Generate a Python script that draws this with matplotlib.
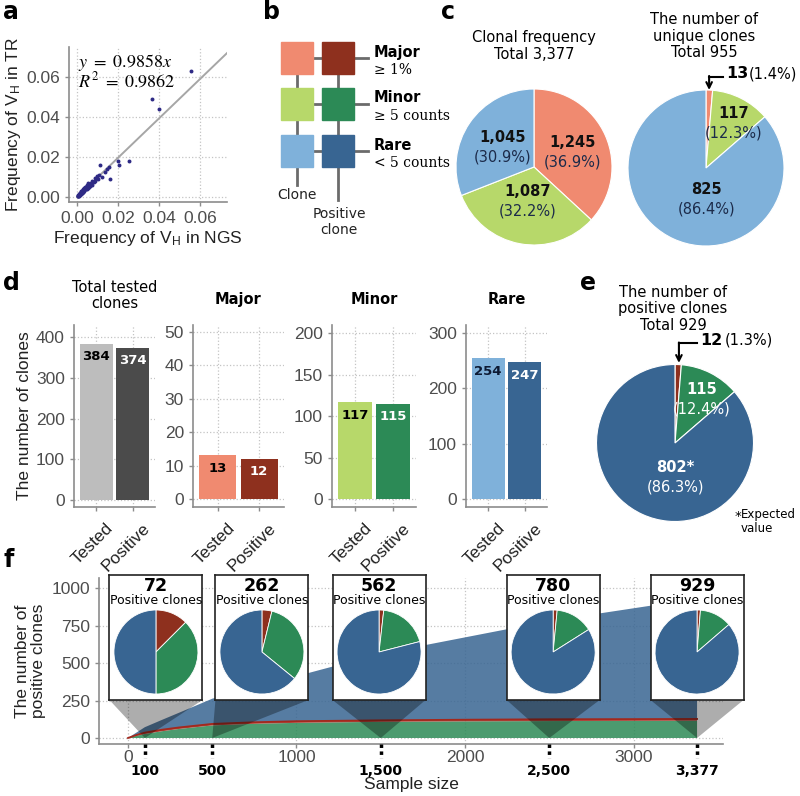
import numpy as np
import matplotlib
matplotlib.use("Agg")
from matplotlib import pyplot as plt
from matplotlib.patches import Rectangle, Polygon
from matplotlib.transforms import blended_transform_factory, ScaledTranslation

W, H = 800, 796

plt.rcParams['font.family'] = ['Liberation Sans', 'DejaVu Sans']
plt.rcParams['mathtext.fontset'] = 'stix'

# ---- data ----
# a: V_H frequency, NGS vs TR
ngs_freq = [0.0555, 0.0365, 0.0400, 0.0200, 0.0205, 0.0250, 0.0112, 0.0153, 0.0145, 0.0137,
            0.0158, 0.0104, 0.0096, 0.0088, 0.0080, 0.0072, 0.0066, 0.0060, 0.0055, 0.0050,
            0.0048, 0.0045, 0.0042, 0.0040, 0.0038, 0.0036, 0.0034, 0.0032, 0.0030, 0.0029,
            0.0028, 0.0026, 0.0025, 0.0024, 0.0022, 0.0021, 0.0020, 0.0019, 0.0018, 0.0017,
            0.0016, 0.0015, 0.0014, 0.0013, 0.0012, 0.0011, 0.0010, 0.0009, 0.0008, 0.0007,
            0.0006, 0.0005, 0.0004, 0.0003, 0.0062, 0.0052, 0.0044, 0.0035, 0.0027, 0.0019,
            0.0012, 0.0030, 0.0023, 0.0016, 0.0009, 0.0070, 0.0085, 0.0100, 0.0120, 0.0050,
            0.0058]
tr_freq = [0.0630, 0.0490, 0.0440, 0.0180, 0.0158, 0.0178, 0.0160, 0.0150, 0.0142, 0.0126,
           0.0090, 0.0110, 0.0105, 0.0082, 0.0074, 0.0078, 0.0070, 0.0064, 0.0068, 0.0055,
           0.0060, 0.0050, 0.0047, 0.0052, 0.0043, 0.0040, 0.0046, 0.0036, 0.0033, 0.0040,
           0.0030, 0.0034, 0.0028, 0.0030, 0.0026, 0.0022, 0.0028, 0.0021, 0.0024, 0.0018,
           0.0020, 0.0016, 0.0018, 0.0014, 0.0015, 0.0012, 0.0013, 0.0010, 0.0011, 0.0008,
           0.0009, 0.0006, 0.0007, 0.0004, 0.0054, 0.0046, 0.0038, 0.0030, 0.0024, 0.0016,
           0.0010, 0.0026, 0.0019, 0.0013, 0.0007, 0.0062, 0.0095, 0.0090, 0.0100, 0.0042,
           0.0050]
fit_slope = 0.9858
fit_r2 = 0.9862

# b: groups
group_names = ['Major', 'Minor', 'Rare']
group_rules = ['≥ 1%', '≥ 5 counts', '< 5 counts']
clone_colors = ['#F08A70', '#B7D86A', '#7FB1DA']
positive_colors = ['#8E301E', '#2C8A56', '#386592']

# c: clonal frequency / unique clones
clonal_freq = [1245, 1087, 1045]
clonal_pct = ['36.9%', '32.2%', '30.9%']
unique_clones = [13, 117, 825]
unique_pct = ['1.4%', '12.3%', '86.4%']

# d: tested vs positive
bar_cats = ['Tested', 'Positive']
d_titles = ['Total tested\nclones', 'Major', 'Minor', 'Rare']
d_counts = [[384, 374], [13, 12], [117, 115], [254, 247]]
d_colors = [['#BDBDBD', '#4B4B4B'], [clone_colors[0], positive_colors[0]],
            [clone_colors[1], positive_colors[1]], [clone_colors[2], positive_colors[2]]]
d_label_colors = [['black', 'white'], ['black', 'white'], ['black', 'white'], ['#0d1a33', 'white']]
d_yticks = [[0, 100, 200, 300, 400], [0, 10, 20, 30, 40, 50], [0, 50, 100, 150, 200], [0, 100, 200, 300]]
d_ylims = [(-17, 430), (-2.4, 52), (-9.6, 210), (-14, 314)]

# e: positive clones
positive_clones = [12, 115, 802]
positive_pct = ['1.3%', '12.4%', '86.3%']

# f: rarefaction of positive clones
sample_size = [0, 50, 100, 200, 300, 500, 750, 1000, 1500, 2000, 2500, 3000, 3377]
major_curve = [0, 5, 9, 10, 10, 10, 10, 11, 10, 11, 12, 12, 12]
minor_curve = [0, 15, 27, 45, 60, 84, 95, 101, 108, 111, 113, 114, 115]
rare_curve = [0, 16, 36, 65, 97, 168, 232, 300, 444, 549, 655, 739, 802]

inset_samples = [100, 500, 1500, 2500, 3377]
inset_major = [9, 10, 10, 12, 12]
inset_minor = [27, 84, 108, 113, 115]
inset_rare = [36, 168, 444, 655, 802]
inset_centers = [166, 795, 1490, 2523, 3377]   # where each inset box sits (x, data units)

fig = plt.figure(figsize=(W / 100, H / 100), dpi=100)


def px_axes(x0, y0, x1, y1):
    return fig.add_axes([x0 / W, 1 - y1 / H, (x1 - x0) / W, (y1 - y0) / H])


def px_text(x, y, s, **kw):
    return fig.text(x / W, 1 - y / H, s, **kw)


def style_axes(ax):
    for side in ['top', 'right']:
        ax.spines[side].set_visible(False)
    for side in ['left', 'bottom']:
        ax.spines[side].set_color('#8c8c8c')
        ax.spines[side].set_linewidth(1.2)
    ax.tick_params(colors='#8c8c8c', labelcolor='#4d4d4d', length=3, width=1, labelsize=12.5)
    ax.grid(True, color='#c4c4c4', linestyle=':', linewidth=0.9)
    ax.set_axisbelow(True)


def pie_axes(cx, cy, r):
    ax = px_axes(cx - r, cy - r, cx + r, cy + r)
    ax.set_xlim(-1, 1)
    ax.set_ylim(-1, 1)
    ax.axis('off')
    return ax


def draw_pie(ax, values, colors, lw=0.8):
    ax.pie(values, colors=colors, startangle=90, counterclock=False, radius=1,
           wedgeprops=dict(edgecolor='white', linewidth=lw))
    ax.set_xlim(-1, 1)
    ax.set_ylim(-1, 1)


def pie_label(ax, x, y, num, pct, ncol='#111111', pcol='#1c2b4a'):
    ax.text(x, y, num, ha='center', va='center', fontsize=10.5, fontweight='bold',
            color=ncol, family='DejaVu Sans')
    ax.text(x, y - 0.25, '(' + pct + ')', ha='center', va='center', fontsize=10.5,
            color=pcol, family='DejaVu Sans')


def arrow_callout(ax, xs, yline, ytip, num, pct, xnum, xpct):
    ax.plot([xs[0], xs[1]], [yline, yline], color='black', lw=1.5, clip_on=False)
    ax.annotate('', xy=(xs[1], ytip), xytext=(xs[1], yline + 0.01),
                arrowprops=dict(arrowstyle='->', lw=1.5, color='black',
                                shrinkA=0, shrinkB=0), annotation_clip=False)
    ax.text(xnum, yline + 0.04, num, ha='left', va='center', fontsize=11.5,
            fontweight='bold', family='DejaVu Sans', clip_on=False)
    ax.text(xpct, yline + 0.04, '(' + pct + ')', ha='left', va='center', fontsize=10.5,
            family='DejaVu Sans', clip_on=False)


# ---------------- panel a ----------------
ax = px_axes(69, 47, 227, 202)
style_axes(ax)
ax.scatter(ngs_freq, tr_freq, s=8, color='#2e2a85', zorder=3, linewidths=0)
xl = np.array([0, 0.073])
ax.plot(xl, xl * fit_slope, color='#a6a6a6', lw=1.4, zorder=2)
ax.set_xlim(-0.004, 0.073)
ax.set_ylim(-0.0025, 0.075)
ax.set_xticks([0, 0.02, 0.04, 0.06])
ax.set_yticks([0, 0.02, 0.04, 0.06])
ax.xaxis.set_major_formatter(matplotlib.ticker.FormatStrFormatter('%.2f'))
ax.yaxis.set_major_formatter(matplotlib.ticker.FormatStrFormatter('%.2f'))
ax.set_xlabel(r'Frequency of V$_\mathregular{H}$ in NGS', fontsize=12.5, color='#222222', labelpad=2)
ax.set_ylabel(r'Frequency of V$_\mathregular{H}$ in TR', fontsize=12.5, color='#222222', labelpad=2)
ax.text(0.06, 0.90, r'$y\ =\ %.4fx$' % fit_slope, transform=ax.transAxes, fontsize=13,
        ha='left', va='center')
ax.text(0.06, 0.78, r'$R^2\ =\ %.4f$' % fit_r2, transform=ax.transAxes, fontsize=13,
        ha='left', va='center')

# ---------------- panel b ----------------
ax = px_axes(250, 25, 450, 245)
ax.set_xlim(250, 450)
ax.set_ylim(245, 25)
ax.axis('off')
box = 32
col_left = [281, 322]
row_top = [42, 88, 135]
line_col = '#6b6b6b'
ax.plot([297, 297], [58, 185], color=line_col, lw=2, zorder=1)
ax.plot([338, 338], [58, 200], color=line_col, lw=2, zorder=1)
for i, name in enumerate(group_names):
    cy = row_top[i] + box / 2
    ax.plot([297, 368], [cy, cy], color=line_col, lw=2, zorder=1)
    ax.add_patch(Rectangle((col_left[0], row_top[i]), box, box, color=clone_colors[i], zorder=2))
    ax.add_patch(Rectangle((col_left[1], row_top[i]), box, box, color=positive_colors[i], zorder=2))
    ax.text(374, cy - 6, name, fontsize=10.5, fontweight='bold', family='DejaVu Sans',
            ha='left', va='center')
    ax.text(374, cy + 12, group_rules[i], fontsize=10, family='DejaVu Serif',
            ha='left', va='center')
ax.text(297, 195, 'Clone', fontsize=10, family='DejaVu Sans', ha='center', va='center', color='#222222')
ax.text(339, 222, 'Positive\nclone', fontsize=10, family='DejaVu Sans', ha='center', va='center',
        linespacing=1.2, color='#222222')

# ---------------- panel c ----------------
ax = pie_axes(534, 167, 78)
draw_pie(ax, clonal_freq, clone_colors)
pie_label(ax, 0.50, 0.32, f'{clonal_freq[0]:,}', clonal_pct[0])
pie_label(ax, -0.08, -0.32, f'{clonal_freq[1]:,}', clonal_pct[1])
pie_label(ax, -0.40, 0.38, f'{clonal_freq[2]:,}', clonal_pct[2])
px_text(534, 46, 'Clonal frequency\nTotal ' + f'{sum(clonal_freq):,}', ha='center', va='center',
        fontsize=10.5, family='DejaVu Sans', linespacing=1.15)

ax = pie_axes(706, 168, 78)
draw_pie(ax, unique_clones, clone_colors)
pie_label(ax, 0.35, 0.70, f'{unique_clones[1]:,}', unique_pct[1])
pie_label(ax, 0.01, -0.28, f'{unique_clones[2]:,}', unique_pct[2])
arrow_callout(ax, (0.22, 0.04), 1.17, 1.0, str(unique_clones[0]), unique_pct[0], 0.26, 0.55)
px_text(704, 36, 'The number of\nunique clones\nTotal ' + f'{sum(unique_clones):,}', ha='center',
        va='center', fontsize=10.5, family='DejaVu Sans', linespacing=1.15)

# ---------------- panel d ----------------
d_x = [(74, 155), (193, 284), (332, 416), (466, 547)]
label_shift = ScaledTranslation(9 / 100, -4 / 100, fig.dpi_scale_trans)
for k in range(4):
    ax = px_axes(d_x[k][0], 325, d_x[k][1], 507)
    style_axes(ax)
    xpos = np.arange(1, 3)
    ax.bar(xpos, d_counts[k], width=0.9, color=d_colors[k], zorder=2)
    for j in range(2):
        ax.annotate(str(d_counts[k][j]), (xpos[j], d_counts[k][j]), xytext=(0, -13),
                    textcoords='offset pixels', ha='center', va='center', fontsize=9.5,
                    fontweight='bold', family='DejaVu Sans', color=d_label_colors[k][j])
    ax.set_xlim(0.4, 2.6)
    ax.set_ylim(*d_ylims[k])
    ax.set_yticks(d_yticks[k])
    ax.set_xticks(xpos)
    ax.set_xticklabels(bar_cats, rotation=45, ha='right', rotation_mode='anchor',
                       color='#222222', fontsize=12.5)
    for lab in ax.get_xticklabels():
        lab.set_transform(lab.get_transform() + label_shift)
    if k == 0:
        ax.set_ylabel('The number of clones', fontsize=12.5, color='#222222', labelpad=3)
        ax.set_title(d_titles[k], fontsize=10.5, family='DejaVu Sans', pad=12, linespacing=1.1)
    else:
        ax.set_title(d_titles[k], fontsize=10.5, family='DejaVu Sans', fontweight='bold', pad=15)

# ---------------- panel e ----------------
ax = pie_axes(675, 443, 78.5)
draw_pie(ax, positive_clones, positive_colors)
pie_label(ax, 0.34, 0.68, f'{positive_clones[1]:,}', positive_pct[1], 'white', 'white')
pie_label(ax, 0.0, -0.31, f'{positive_clones[2]:,}*', positive_pct[2], 'white', 'white')
arrow_callout(ax, (0.28, 0.05), 1.27, 1.02, str(positive_clones[0]), positive_pct[0], 0.32, 0.63)
ax.text(0.76, -0.93, '*', fontsize=9.5, family='DejaVu Sans', ha='left', va='center', clip_on=False)
ax.text(0.84, -1.0, 'Expected\nvalue', fontsize=8.5, family='DejaVu Sans', ha='left', va='center',
        linespacing=1.1, clip_on=False)
px_text(673, 309, 'The number of\npositive clones\nTotal ' + f'{sum(positive_clones):,}',
        ha='center', va='center', fontsize=10.5, family='DejaVu Sans', linespacing=1.15)

# ---------------- panel f ----------------
ax = px_axes(99, 578, 723, 744)
style_axes(ax)
ax.tick_params(axis='x', pad=1)
ax.set_xlim(-172, 3531)
ax.set_ylim(-40, 1067)
ax.set_xticks([0, 1000, 2000, 3000])
ax.set_yticks([0, 250, 500, 750, 1000])
ax.stackplot(sample_size, minor_curve, major_curve, rare_curve,
             colors=[positive_colors[1], '#a3281d', positive_colors[2]], alpha=0.85, zorder=2,
             linewidth=0)
ax.plot(sample_size, np.add(minor_curve, major_curve), color='#a3281d', lw=1.3, zorder=2)
ax.set_ylabel('The number of\npositive clones', fontsize=12.5, color='#222222', labelpad=4,
              linespacing=1.1)
px_text(411, 784, 'Sample size', ha='center', va='center', fontsize=12.5, color='#222222')
trans = blended_transform_factory(ax.transData, ax.transAxes)
for s in inset_samples:
    ax.plot([s, s], [0, -0.085], transform=trans, ls=(0, (1, 1)), lw=2.5, color='black',
            clip_on=False, zorder=4)
    ax.text(s, -0.16, f'{s:,}', transform=trans, ha='center', va='center', fontsize=10,
            fontweight='bold', family='DejaVu Sans')

box_w, box_top, box_bot = 93, 575, 700
for i, s in enumerate(inset_samples):
    cx = ax.transData.transform((inset_centers[i], 0))[0]
    tip_x, tip_y = ax.transData.transform((s, 0))
    tip_y = H - tip_y
    x0, x1 = cx - box_w / 2, cx + box_w / 2
    poly = Polygon([(x0 / W, 1 - box_bot / H), (x1 / W, 1 - box_bot / H),
                    (tip_x / W, 1 - tip_y / H)], closed=True, transform=fig.transFigure,
                   facecolor='black', alpha=0.32, edgecolor='none', clip_on=False, zorder=3)
    ax.add_patch(poly)
    bx = px_axes(x0, box_top, x1, box_bot)
    bx.set_xticks([])
    bx.set_yticks([])
    for sp in bx.spines.values():
        sp.set_color('#222222')
        sp.set_linewidth(1.2)
    total = inset_major[i] + inset_minor[i] + inset_rare[i]
    bx.text(0.5, 0.915, str(total), transform=bx.transAxes, ha='center', va='center',
            fontsize=12.5, fontweight='bold', family='DejaVu Sans')
    bx.text(0.5, 0.795, 'Positive clones', transform=bx.transAxes, ha='center', va='center',
            fontsize=9, family='DejaVu Sans')
    pa = pie_axes(cx, 652, 42)
    draw_pie(pa, [inset_major[i], inset_minor[i], inset_rare[i]], positive_colors, lw=0.6)

# ---------------- panel letters ----------------
for letter, x, y in [('a', 3, 12), ('b', 263, 12), ('c', 441, 12), ('d', 3, 283),
                     ('e', 580, 283), ('f', 3, 560)]:
    px_text(x, y, letter, fontsize=17, fontweight='bold', family='DejaVu Sans', ha='left', va='center')

fig.savefig('out.png', dpi=100)
